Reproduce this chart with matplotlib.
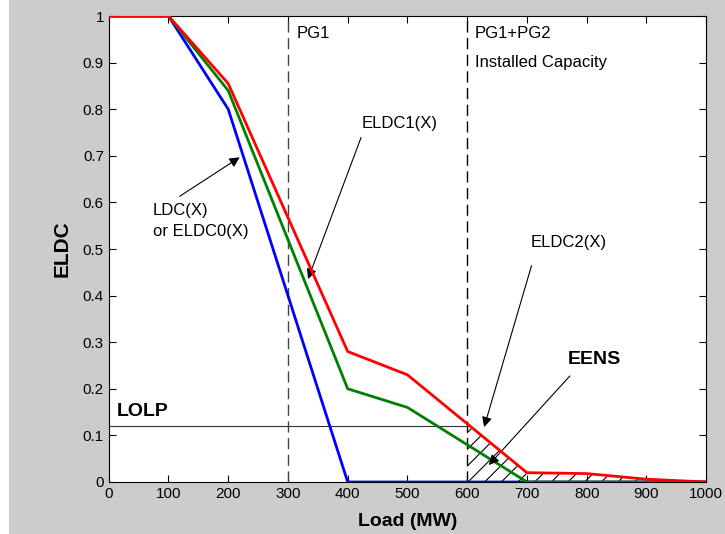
import numpy as np
import matplotlib.pyplot as plt
from matplotlib.patches import Rectangle

plt.rcParams['font.family'] = ['Liberation Sans', 'DejaVu Sans']
plt.rcParams['hatch.linewidth'] = 0.8

# load (MW)
load = [0, 100, 200, 300, 400, 500, 600, 700, 800, 900, 1000]
ldc = [1, 1, 0.8, 0.4, 0, 0, 0, 0, 0, 0, 0]
eldc1 = [1, 1, 0.84, 0.52, 0.2, 0.16, 0.08, 0, 0, 0, 0]
eldc2 = [1, 1, 0.855, 0.5675, 0.28, 0.23, 0.125, 0.02, 0.018, 0.006, 0]
lolp = 0.12
pg1 = 300
pg12 = 600

xticks = list(range(0, 1001, 100))
yticks = [0, 0.1, 0.2, 0.3, 0.4, 0.5, 0.6, 0.7, 0.8, 0.9, 1]
ytick_labels = ['0', '0.1', '0.2', '0.3', '0.4', '0.5', '0.6', '0.7', '0.8', '0.9', '1']

fig = plt.figure(figsize=(7.25, 5.34), dpi=100, facecolor='#cccccc')
fig.patches.append(Rectangle((0, 0), 9 / 725, 1, transform=fig.transFigure,
                             facecolor='white', edgecolor='none', zorder=0))
ax = fig.add_axes([0.150, 0.0974, 0.824, 0.8726])

x = np.array(load)
y2 = np.array(eldc2)
m = x >= pg12
ax.fill_between(x[m], y2[m], 0, facecolor='none', edgecolor='k', hatch='//', linewidth=0)

ax.plot(load, ldc, color='blue', lw=2, zorder=3)
ax.plot(load, eldc1, color='green', lw=2, zorder=3)
ax.plot(load, eldc2, color='red', lw=2, zorder=4)

ax.plot([0, pg12], [lolp, lolp], color='#333333', lw=0.8)
ax.axvline(pg1, color='#444444', lw=1, dashes=(8, 4))
ax.axvline(pg12, color='k', lw=1, dashes=(8, 4))

fs = 12
ax.text(315, 0.963, 'PG1', fontsize=fs, va='center')
ax.text(613, 0.963, 'PG1+PG2', fontsize=fs, va='center')
ax.text(613, 0.901, 'Installed Capacity', fontsize=fs, va='center')
ax.text(13, 0.152, 'LOLP', fontsize=14, fontweight='bold', va='center')
ax.text(769, 0.262, 'EENS', fontsize=14, fontweight='bold', va='center')

arr = dict(arrowstyle='-|>', color='k', lw=0.8, mutation_scale=15)
ax.annotate('LDC(X)\nor ELDC0(X)', xy=(74, 0.56), fontsize=fs, va='center',
            ha='left', linespacing=1.5)
ax.annotate('', xy=(223, 0.70), xytext=(115, 0.61), arrowprops=arr)
ax.annotate('ELDC1(X)', xy=(424, 0.77), fontsize=fs, va='center')
ax.annotate('', xy=(332, 0.43), xytext=(424, 0.745), arrowprops=arr)
ax.annotate('ELDC2(X)', xy=(707, 0.513), fontsize=fs, va='center')
ax.annotate('', xy=(627, 0.112), xytext=(709, 0.47), arrowprops=arr)
ax.annotate('', xy=(633, 0.032), xytext=(775, 0.232), arrowprops=arr)

ax.set_xlim(0, 1000)
ax.set_ylim(0, 1)
ax.set_xticks(xticks)
ax.set_yticks(yticks)
ax.set_yticklabels(ytick_labels)
ax.tick_params(direction='in', top=True, right=True, labelsize=11, length=5)
ax.set_xlabel('Load (MW)', fontsize=14, fontweight='bold', labelpad=9)
ax.set_ylabel('ELDC', fontsize=15, fontweight='bold', labelpad=8)

fig.savefig('out.png', dpi=100, facecolor=fig.get_facecolor())
